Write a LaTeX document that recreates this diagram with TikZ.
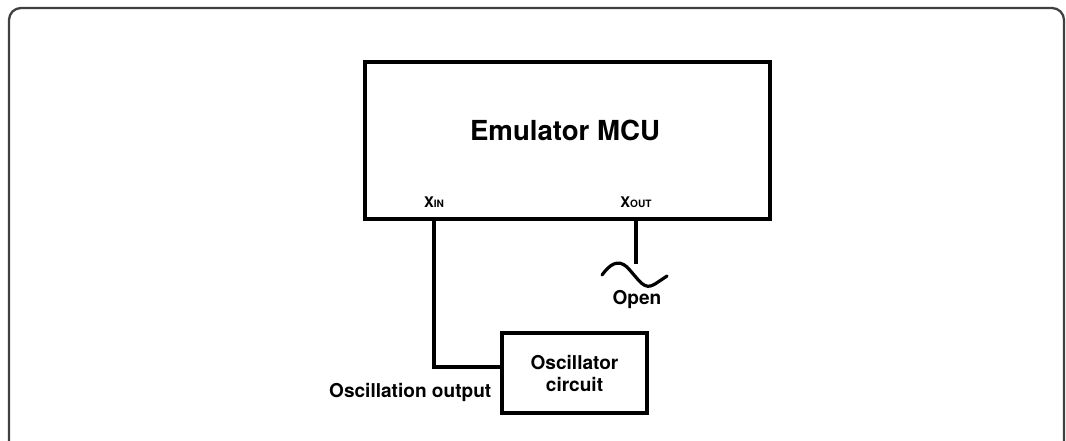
\documentclass[tikz,border=0pt]{standalone}
\usepackage{fontspec}
\setmainfont{TeX Gyre Heros}
\usetikzlibrary{positioning,calc}

\newcommand{\pinname}[2]{\fontsize{11}{12}\selectfont #1{\fontsize{7.6}{8}\selectfont #2}}

\begin{document}
\begin{tikzpicture}[
  x=0.75pt, y=-0.75pt,
  font=\bfseries,
  block/.style={draw, line width=2.8pt, inner sep=0pt},
  wire/.style={line width=2.8pt},
  frame/.style={draw=black!75, line width=1.7pt, rounded corners=9pt},
  title/.style={font=\bfseries\fontsize{20.7}{22}\selectfont},
  note/.style={font=\bfseries\fontsize{14.3}{16.5}\selectfont, align=center}
]
\useasboundingbox (0,0) rectangle (1066,441);
\draw[frame] (9,460) -- (9,8) -- (1064,8) -- (1064,460);

% emulator and oscillator
\node[block, minimum width=303.75pt, minimum height=117.75pt] (mcu) at (567.5,140.5) {};
\node[title] (mcutitle) at (565,130) {Emulator MCU};
\node[block, minimum width=108.75pt, minimum height=59.5pt, note] (osc) at (574.5,373) {Oscillator\\circuit};

% pins
\node[anchor=base] (xin) at (434,208) {\pinname{X}{IN}};
\node[anchor=base] (xout) at (636,208) {\pinname{X}{OUT}};
\coordinate (oscin) at (osc.west |- 0,367);
\coordinate (xoutend) at (636,264);

\draw[wire] (xin |- mcu.south) |- (oscin);
\draw[wire] (xout |- mcu.south) -- (xoutend);
\draw[wire, line width=2.4pt, line cap=round] (602,275) .. controls (610,264) and (618,259) .. (627,267)
  .. controls (640,281) and (644,291) .. (655,284) -- (667,276);

\node[note, anchor=base] (open) at (637,305) {Open};
\node[note, anchor=base east] (oscout) at (496,397) {Oscillation output};
\end{tikzpicture}
\end{document}
